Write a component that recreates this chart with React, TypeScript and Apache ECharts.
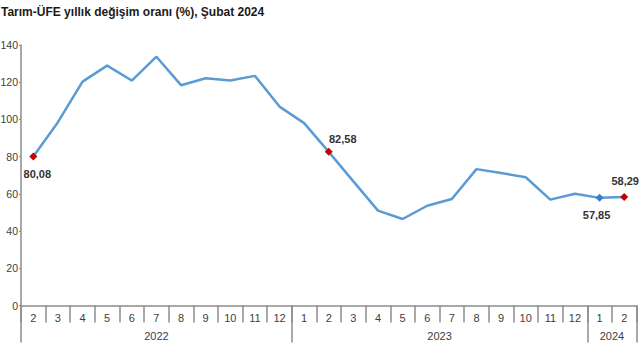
import React, { useEffect, useRef } from "react";
import * as echarts from "echarts";

const titleText = "Tarım-ÜFE yıllık değişim oranı (%), Şubat 2024";
const months = ["2", "3", "4", "5", "6", "7", "8", "9", "10", "11", "12", "1", "2", "3", "4", "5", "6", "7", "8", "9", "10", "11", "12", "1", "2"];
const values = [80.08, 98.5, 120.3, 128.9, 120.9, 133.7, 118.4, 122.1, 120.9, 123.4, 106.9, 98.0, 82.58, 66.7, 51.0, 46.5, 53.6, 57.2, 73.3, 71.2, 68.9, 56.9, 60.1, 57.85, 58.29];
const years = ["2022", "2023", "2024"];
const monthsPerYear = [11, 12, 2];
const yTicks = [0, 20, 40, 60, 80, 100, 120, 140];

// highlighted points: index, marker colour, label placement
const highlights: Record<number, { color: string; position: string; offset: number[] }> = {
  0: { color: "#c00000", position: "bottom", offset: [4, 0] },
  12: { color: "#c00000", position: "top", offset: [14, 5] },
  23: { color: "#3a7fc4", position: "bottom", offset: [-3, 0] },
  24: { color: "#c00000", position: "top", offset: [1, 1] },
};

const FONT = "'Liberation Sans', Arial, sans-serif";
const AXIS_COLOR = "#8c8c8c";
const LINE_COLOR = "#5b9bd5";

export default function App() {
  const ref = useRef<HTMLDivElement>(null);
  useEffect(() => {
    if (!ref.current) return;
    const chart = echarts.init(ref.current, undefined, { renderer: "svg" });

    // half-month positions for the year row
    const total = monthsPerYear.reduce((a, b) => a + b, 0);
    const halfKeys: string[] = [];
    for (let i = 0; i <= total * 2; i++) halfKeys.push("h" + i);
    const boundaries: number[] = [0];
    const labelAt: Record<number, string> = {};
    let start = 0;
    monthsPerYear.forEach((c, k) => {
      labelAt[2 * start + c] = years[k];
      start += c;
      boundaries.push(2 * start);
    });

    const data = values.map((v, i) => {
      const h = highlights[i];
      if (!h) return { value: v, symbol: "none" };
      return {
        value: v,
        symbol: "diamond",
        symbolSize: 8,
        itemStyle: { color: h.color },
        label: {
          show: true,
          position: h.position,
          offset: h.offset,
          distance: 8,
          formatter: () => v.toFixed(2).replace(".", ","),
          fontFamily: FONT,
          fontSize: 11,
          fontWeight: "bold",
          color: "#333333",
        },
      };
    });

    chart.setOption({
      animation: false,
      backgroundColor: "#ffffff",
      graphic: [
        {
          type: "text",
          left: 1,
          top: 6,
          style: { text: titleText, font: "bold 12px " + FONT, fill: "#1a1a1a" },
        },
      ],
      grid: { left: 21, right: 3.5, top: 45, bottom: 54.5, containLabel: false, outerBoundsMode: "none" },
      xAxis: [
        {
          type: "category",
          data: months,
          boundaryGap: true,
          position: "bottom",
          axisLine: { show: true, lineStyle: { color: AXIS_COLOR, width: 1.5 } },
          axisTick: { show: true, interval: 0, length: 17, lineStyle: { color: AXIS_COLOR, width: 1.5 } },
          axisLabel: { interval: 0, margin: 7, fontFamily: FONT, fontSize: 11, color: "#404040" },
          splitLine: { show: false },
        },
        {
          type: "category",
          data: halfKeys,
          boundaryGap: false,
          position: "bottom",
          offset: 0,
          axisLine: { show: false },
          axisTick: {
            show: true,
            interval: (idx: number) => boundaries.includes(idx),
            length: 37,
            lineStyle: { color: AXIS_COLOR, width: 1.5 },
          },
          axisLabel: {
            interval: (idx: number) => labelAt[idx] !== undefined,
            formatter: (_v: string, idx: number) => labelAt[idx] ?? "",
            margin: 25,
            fontFamily: FONT,
            fontSize: 11,
            color: "#404040",
          },
          splitLine: { show: false },
        },
      ],
      yAxis: {
        type: "value",
        min: yTicks[0],
        max: yTicks[yTicks.length - 1],
        interval: yTicks[1] - yTicks[0],
        axisLine: { show: true, lineStyle: { color: AXIS_COLOR, width: 1.5 } },
        axisTick: { show: true, length: 2, lineStyle: { color: AXIS_COLOR } },
        axisLabel: { margin: 3, fontFamily: FONT, fontSize: 10.5, color: "#404040" },
        splitLine: { show: false },
      },
      series: [
        {
          type: "line",
          xAxisIndex: 0,
          data,
          showSymbol: true,
          lineStyle: { color: LINE_COLOR, width: 2.5 },
          itemStyle: { color: LINE_COLOR },
          z: 3,
        },
      ],
    });
    return () => chart.dispose();
  }, []);
  return <div ref={ref} style={{ position: "fixed", left: 0, top: 0, width: 640, height: 360 }} />;
}
